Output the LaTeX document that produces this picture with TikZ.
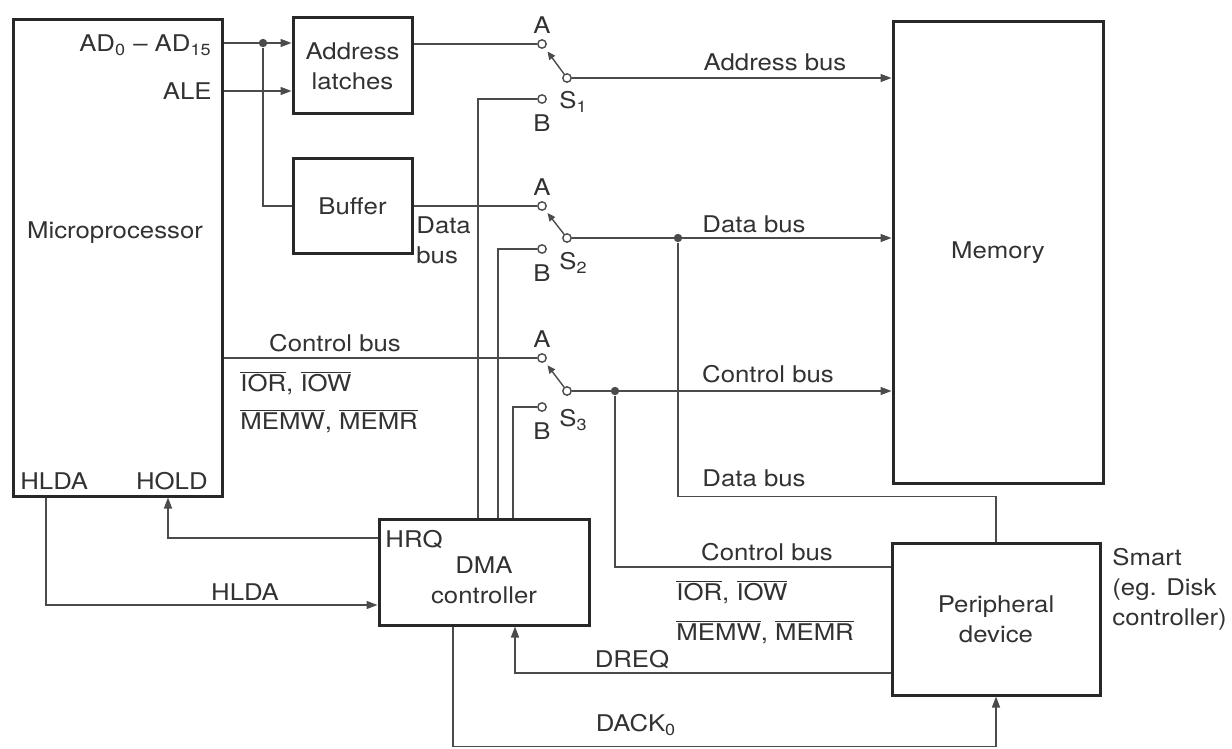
\documentclass[tikz,border=0pt]{standalone}
\usepackage{fontspec}
\setmainfont{TeX Gyre Heros}[FakeStretch=1.12]
\usepackage{tikz}
\usetikzlibrary{positioning,arrows.meta,calc}
\definecolor{dmaBox}{RGB}{40,40,40}
\definecolor{dmaLine}{RGB}{75,75,75}
\definecolor{dmaText}{RGB}{50,50,50}
\newcommand\lblfont{\fontsize{11.5}{15}\selectfont}
\newcommand\ovl[1]{$\overline{\mbox{#1}}$}

\begin{document}
\begin{tikzpicture}[
    x=0.5pt, y=-0.5pt,
    font=\lblfont, text=dmaText,
    box/.style={draw=dmaBox, line width=1.5pt, inner sep=0pt, align=center},
    wire/.style={draw=dmaLine, line width=0.7pt},
    arr/.style={-{Triangle[length=5.5pt,width=4pt]}},
    armarr/.style={-{Triangle[length=4pt,width=3.5pt]}},
    contact/.style={circle, draw=dmaLine, fill=white, line width=0.7pt, inner sep=0pt, minimum size=4.2pt},
    dot/.style={circle, fill=dmaLine, inner sep=0pt, minimum size=4.2pt},
    lbl/.style={inner sep=0pt, align=left}
]
  \useasboundingbox (0,0) rectangle (1232,749);

  \node[box, minimum width=104.5pt, minimum height=238pt] (mp) at (117.5,258) {};
  \node[lbl, anchor=east] (adl) at (212,45) {AD\textsubscript{0} -- AD\textsubscript{15}};
  \node[lbl, anchor=east] (ale) at (212,91) {ALE};
  \node[lbl] (mpl) at (115,233) {Microprocessor};
  \node[lbl, anchor=west] (hlda) at (20,481) {HLDA};
  \node[lbl, anchor=east] (hold) at (208,481) {HOLD};

  \node[box, minimum width=59.5pt, minimum height=48pt] (latch) at (352.5,66) {Address\\latches};
  \node[box, minimum width=59.5pt, minimum height=47pt] (buffer) at (352.5,206) {Buffer};
  \node[lbl, anchor=west] (dbus) at (416,240) {Data\\bus};
  \node[box, minimum width=105pt, minimum height=230.5pt] (mem) at (998,252.5) {Memory};
  \node[box, minimum width=105pt, minimum height=53pt] (dma) at (484,572) {};
  \node[lbl, align=center] (dmal) at (484,580) {DMA\\controller};
  \node[lbl, anchor=west] (hrq) at (385,540) {HRQ};
  \node[box, minimum width=104pt, minimum height=76pt] (periph) at (996,619) {Peripheral\\device};
  \node[lbl, anchor=north west] (smart) at (1112,548) {Smart\\(eg. Disk\\controller)};

  % switches
  \node[contact, label={[lbl,label distance=2.5pt]above:A}] (s1a) at (542,44) {};
  \node[contact] (s1p) at (567,78) {};
  \node[contact, label={[lbl,label distance=5pt]below:B}] (s1b) at (542,99) {};
  \node[lbl, anchor=west] (s1) at (559,102) {S\textsubscript{1}};
  \node[contact, label={[lbl,label distance=2.5pt]above:A}] (s2a) at (542,206) {};
  \node[contact] (s2p) at (567,238) {};
  \node[contact, label={[lbl,label distance=5pt]below:B}] (s2b) at (542,249) {};
  \node[lbl, anchor=west] (s2) at (559,263) {S\textsubscript{2}};
  \node[contact, label={[lbl,label distance=2.5pt]above:A}] (s3a) at (542,358) {};
  \node[contact] (s3p) at (567,391) {};
  \node[contact, label={[lbl,label distance=5pt]below:B}] (s3b) at (542,407) {};
  \node[lbl, anchor=west] (s3) at (559,420) {S\textsubscript{3}};

  \node[dot] (j1) at (263,43) {};
  \node[dot] (j2) at (678,238) {};
  \node[dot] (j3) at (615,391) {};

  \node[lbl] (abl) at (775,62) {Address bus};
  \node[lbl] (dbl) at (754,224) {Data bus};
  \node[lbl] (cbl) at (768,374) {Control bus};
  \node[lbl] (dbl2) at (754,478) {Data bus};
  \node[lbl] (cbl2) at (767,552) {Control bus};
  \node[lbl, anchor=west] (io2) at (676,592) {\ovl{IOR}, \ovl{IOW}};
  \node[lbl, anchor=west] (mm2) at (676,632) {\ovl{MEMW}, \ovl{MEMR}};
  \node[lbl] (cbl1) at (335,343) {Control bus};
  \node[lbl, anchor=west] (io1) at (240,383) {\ovl{IOR}, \ovl{IOW}};
  \node[lbl, anchor=west] (mm1) at (240,421) {\ovl{MEMW}, \ovl{MEMR}};
  \node[lbl] (hldal) at (245,592) {HLDA};
  \node[lbl] (dreq) at (632,660) {DREQ};
  \node[lbl] (dack) at (636,725) {DACK\textsubscript{0}};

  \draw[wire, arr] (j1 -| mp.east) -- (j1 -| latch.west);
  \draw[wire, arr] (mp.east |- ale) -- (latch.west |- ale);
  \draw[wire] (j1) |- (buffer.west);
  \draw[wire] (latch.east |- s1a) -- (s1a);
  \draw[wire] (buffer.east |- s2a) -- (s2a);
  \draw[wire] (mp.east |- s3a) -- (s3a);

  \draw[wire, armarr] (s1p) -- ($(s1p)!0.78!(s1a)$);
  \draw[wire, armarr] (s2p) -- ($(s2p)!0.78!(s2a)$);
  \draw[wire, armarr] (s3p) -- ($(s3p)!0.78!(s3a)$);

  \draw[wire, arr] (s1p) -- (s1p -| mem.west);
  \draw[wire, arr] (s2p) -- (s2p -| mem.west);
  \draw[wire, arr] (s3p) -- (s3p -| mem.west);

  \draw[wire] (s1b) -| ([xshift=-3pt]dma.north);
  \draw[wire] (s2b) -| ([xshift=7pt]dma.north);
  \draw[wire] (s3b) -| ([xshift=14.5pt]dma.north);

  \draw[wire] (j2) |- ([yshift=22.5pt]periph.north) -- (periph.north);
  \draw[wire] (j3) |- ([yshift=26pt]periph.west);

  \draw[wire, arr] ([yshift=17pt]dma.west) -| ([xshift=25.25pt]mp.south);
  \draw[wire, arr] ([xshift=-35.75pt]mp.south) |- ([yshift=-16.5pt]dma.west);
  \draw[wire, arr] ([yshift=-27pt]periph.west) -| ([xshift=15.5pt]dma.south);
  \draw[wire, arr] ([xshift=-15.5pt]dma.south) |- ([yshift=-25pt]periph.south) -- (periph.south);
\end{tikzpicture}
\end{document}
